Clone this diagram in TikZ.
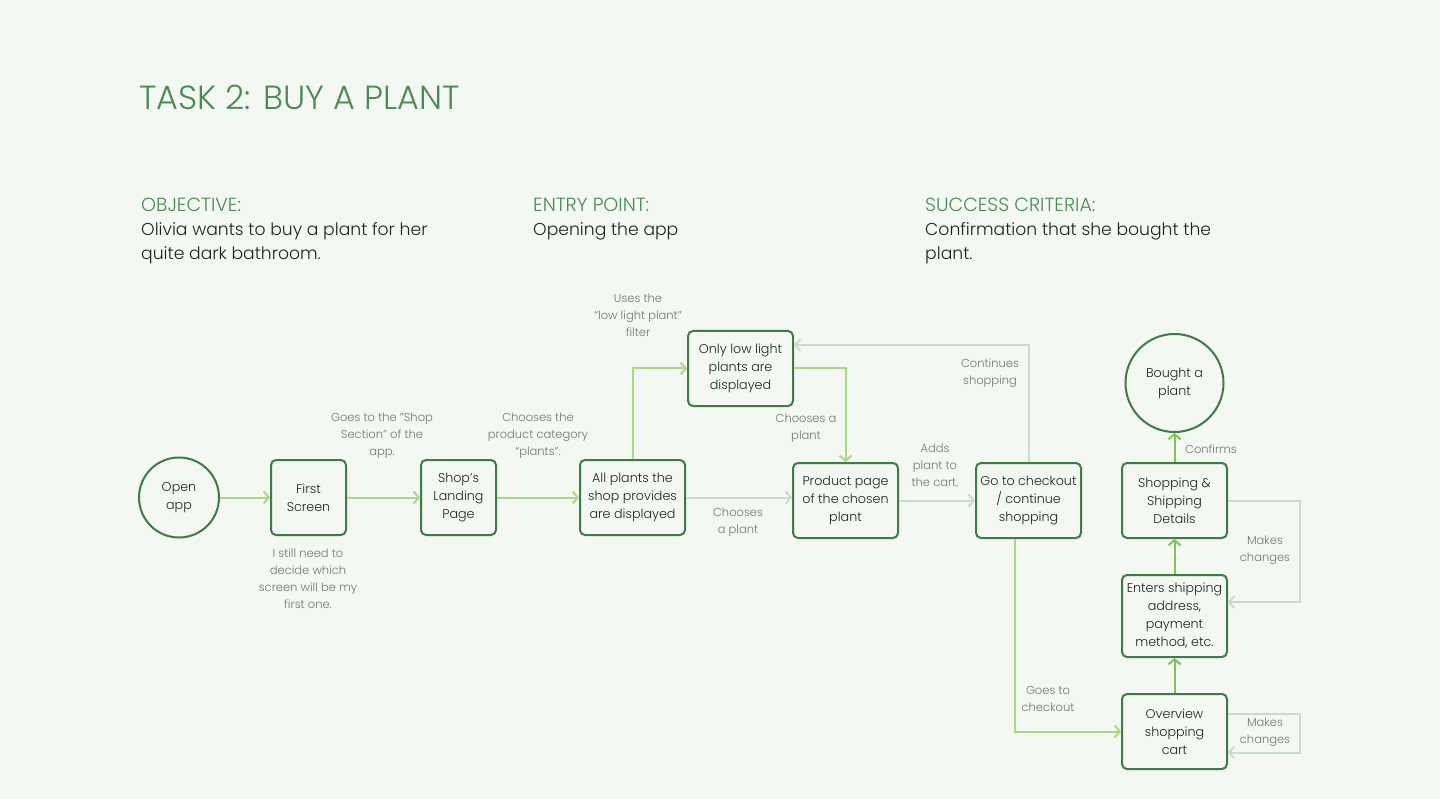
\documentclass[tikz,border=0pt]{standalone}
\usepackage{fontspec}
\setmainfont{Poppins Light}
\usetikzlibrary{arrows.meta}
\definecolor{bg}{HTML}{F4F8F3}
\definecolor{boxc}{HTML}{3E7B46}
\definecolor{lgr}{HTML}{A9D982}
\definecolor{mgr}{HTML}{7CC25A}
\definecolor{pale}{HTML}{C8DDC7}
\definecolor{lblc}{HTML}{6E786E}
\definecolor{head}{HTML}{4B8A55}
\definecolor{txt}{HTML}{222222}
\newcommand\ndfont{\fontsize{12.7}{18}\selectfont}
\newcommand\lbfont{\fontsize{11.5}{17}\selectfont}
\tikzset{
 stepbox/.style={draw=boxc, line width=2pt, rounded corners=5pt, fill=bg, align=center, inner sep=0pt, font=\ndfont, text=txt, minimum width=105pt, minimum height=75pt},
 narrow/.style={minimum width=75pt},
 circ/.style={circle, draw=boxc, line width=2pt, fill=bg, align=center, font=\ndfont, text=txt, inner sep=0pt},
 lbl/.style={align=center, font=\lbfont, text=lblc},
 conn/.style={line width=2pt, -{Straight Barb[length=5pt,width=12pt]}},
 headt/.style={anchor=base west, inner sep=0pt, text=head, font=\fontsize{19}{22}\selectfont},
 bodyt/.style={anchor=base west, inner sep=0pt, text=txt, font=\fontsize{17.2}{20}\selectfont},
}
\begin{document}
\begin{tikzpicture}[x=1pt,y=-1pt]
\fill[bg] (0,0) rectangle (1440,799);
\node[anchor=base west, inner sep=0pt, text=head, font=\fontsize{33.5}{36}\selectfont] (title) at (139,110) {TASK 2: BUY A PLANT};
\node[headt] (h1) at (141,212) {OBJECTIVE:};
\node[bodyt] (b1a) at (141,236) {Olivia wants to buy a plant for her};
\node[bodyt] (b1b) at (141,260) {quite dark bathroom.};
\node[headt] (h2) at (533,212) {ENTRY POINT:};
\node[bodyt] (b2a) at (533,236) {Opening the app};
\node[headt] (h3) at (925,212) {SUCCESS CRITERIA:};
\node[bodyt] (b3a) at (925,236) {Confirmation that she bought the};
\node[bodyt] (b3b) at (925,260) {plant.};

\node[circ, minimum size=80pt] (open) at (179,497.5) {Open\\app};
\node[stepbox, narrow] (first) at (308.5,497.5) {First\\Screen};
\node[stepbox, narrow] (land) at (458.5,497.5) {Shop’s\\Landing\\Page};
\node[stepbox] (all) at (632.5,497.5) {All plants the\\shop provides\\are displayed};
\node[stepbox] (low) at (740.5,368.5) {Only low light\\plants are\\displayed};
\node[stepbox] (prod) at (845.5,500.5) {Product page\\of the chosen\\plant};
\node[stepbox] (go) at (1028.5,500.5) {Go to checkout\\/ continue\\shopping};
\node[circ, minimum size=98pt] (bought) at (1174.5,383) {Bought a\\plant};
\node[stepbox] (ship) at (1174.5,500.5) {Shopping \&\\Shipping\\Details};
\node[stepbox, minimum height=82pt] (enter) at (1174.5,616) {Enters shipping\\address,\\payment\\method, etc.};
\node[stepbox] (over) at (1174.5,731.5) {Overview\\shopping\\cart};

\draw[conn, lgr] (open) -- (first);
\draw[conn, lgr] (first) -- (land);
\draw[conn, lgr] (land) -- (all);
\draw[conn, lgr] (all.north) |- (low.west);
\draw[conn, lgr] (low.east) -| (prod.north);
\draw[conn, pale] (all.east) -- (all.east -| prod.west);
\draw[conn, pale] (prod) -- (go);
\draw[conn, pale] (go.north) |- ([yshift=-15pt]low.north east);
\draw[conn, lgr] ([xshift=-14pt]go.south) |- (over.west);
\draw[conn, mgr] (over) -- (enter);
\draw[conn, mgr] (enter) -- (ship);
\draw[conn, mgr] (ship) -- (bought);
\draw[conn, pale] (ship.east) -- ++(72,0) |- ([yshift=14pt]enter.east);
\draw[conn, pale] ([yshift=18pt]over.east) -- ++(72,0) |- ([yshift=-21pt]over.east);

\node[lbl] (l1) at (382,436) {Goes to the "Shop\\Section" of the\\app.};
\node[lbl] (l2) at (308,579) {I still need to\\decide which\\screen will be my\\first one.};
\node[lbl] (l3) at (538,436) {Chooses the\\product category\\“plants”.};
\node[lbl] (l4) at (638,315) {Uses the\\“low light plant”\\filter};
\node[lbl] (l5) at (738,522.5) {Chooses\\a plant};
\node[lbl] (l6) at (806,428.5) {Chooses a\\plant};
\node[lbl] (l7) at (935,465) {Adds\\plant to\\the cart.};
\node[lbl] (l8) at (990,373.5) {Continues\\shopping};
\node[lbl] (l9) at (1048,698.5) {Goes to\\checkout};
\node[lbl] (l10) at (1211,449) {Confirms};
\node[lbl] (l11) at (1265,550.5) {Makes\\changes};
\node[lbl] (l12) at (1265,732.5) {Makes\\changes};
\end{tikzpicture}
\end{document}
